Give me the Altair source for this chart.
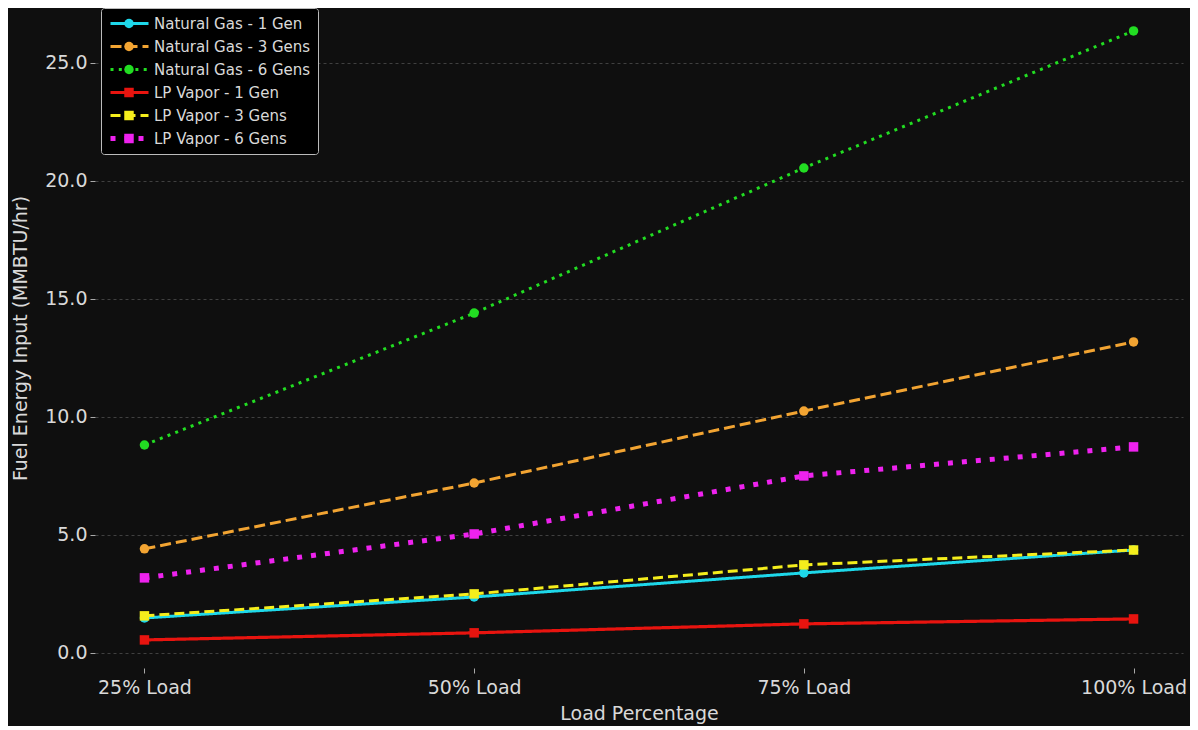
import altair as alt
import pandas as pd

loads = ["25% Load", "50% Load", "75% Load", "100% Load"]
series_names = [
    "Natural Gas - 1 Gen",
    "Natural Gas - 3 Gens",
    "Natural Gas - 6 Gens",
    "LP Vapor - 1 Gen",
    "LP Vapor - 3 Gens",
    "LP Vapor - 6 Gens",
]
ng_1 = [1.48, 2.37, 3.39, 4.36]
ng_3 = [4.41, 7.20, 10.25, 13.18]
ng_6 = [8.81, 14.40, 20.55, 26.36]
lp_1 = [0.55, 0.85, 1.23, 1.44]
lp_3 = [1.57, 2.50, 3.73, 4.36]
lp_6 = [3.18, 5.04, 7.50, 8.73]

colors = ["#1ed8ea", "#f2a432", "#22dd22", "#e8140f", "#f5ee1c", "#ee22ee"]
dashes = [[1, 0], [11, 5], [3, 5.3], [1, 0], [10, 5], [5, 9]]
widths = [3.0, 3.0, 3.0, 3.2, 3.0, 5.0]
shapes = ["circle", "circle", "circle", "square", "square", "square"]

all_values = [ng_1, ng_3, ng_6, lp_1, lp_3, lp_6]
rows = []
for i, (name, vals) in enumerate(zip(series_names, all_values)):
    for load, v in zip(loads, vals):
        rows.append({"Load": load, "Value": v, "Series": name, "Marker": name, "order": i})
df = pd.DataFrame(rows)

FONT = "DejaVu Sans"
TXT = "#d9d9d9"
LEG_X, LEG_Y = 6, 0
ORDER = alt.EncodingSortField(field="order", op="min")
PAD_TEXT = "\u00a0" * 18

x_enc = alt.X(
    "Load:N",
    sort=loads,
    scale=alt.Scale(type="point", padding=0.15),
    axis=alt.Axis(title="Load Percentage", labelAngle=0, titlePadding=7, labelPadding=5),
)
y_enc = alt.Y(
    "Value:Q",
    scale=alt.Scale(domain=[-0.64, 27.33], nice=False, zero=False),
    axis=alt.Axis(
        title="Fuel Energy Input (MMBTU/hr)",
        values=[0, 5, 10, 15, 20, 25],
        format=".1f",
        titlePadding=14,
        labelPadding=3,
    ),
)

line_legend = alt.Legend(
    title=None,
    orient="none",
    legendX=LEG_X,
    legendY=LEG_Y,
    symbolType="stroke",
    symbolSize=1444,
    symbolStrokeWidth=3,
    clipHeight=17,
    labelFontSize=15,
    labelFont=FONT,
    labelColor=TXT,
    labelExpr="datum.label + '" + PAD_TEXT + "'",
    labelLimit=400,
    rowPadding=6,
    padding=7,
    fillColor="#000000",
    strokeColor="#bbbbbb",
    cornerRadius=3,
    labelOffset=3,
)

lines = alt.Chart(df).mark_line().encode(
    x=x_enc,
    y=y_enc,
    color=alt.Color("Series:N", sort=ORDER, scale=alt.Scale(range=colors), legend=line_legend),
    strokeDash=alt.StrokeDash(
        "Series:N", sort=ORDER, scale=alt.Scale(range=dashes), legend=line_legend
    ),
    strokeWidth=alt.StrokeWidth(
        "Series:O", sort=ORDER, scale=alt.Scale(type="ordinal", range=widths), legend=None
    ),
)

marker_legend = alt.Legend(
    title=None,
    orient="none",
    legendX=LEG_X,
    legendY=LEG_Y,
    symbolSize=90,
    symbolOffset=16,
    symbolStrokeWidth=0,
    symbolOpacity=1,
    clipHeight=17,
    labelFontSize=1,
    labelExpr="''",
    rowPadding=6,
    padding=7,
)

points = alt.Chart(df).mark_point(filled=True, opacity=1).encode(
    x=x_enc,
    y=y_enc,
    fill=alt.Fill("Marker:N", sort=ORDER, scale=alt.Scale(range=colors), legend=marker_legend),
    shape=alt.Shape("Marker:N", sort=ORDER, scale=alt.Scale(range=shapes), legend=marker_legend),
    size=alt.value(90),
)

chart = (
    alt.layer(lines, points)
    .properties(
        width=1088,
        height=660,
        autosize=alt.AutoSizeParams(type="none"),
        padding={"left": 87, "top": 0, "right": 7, "bottom": 58},
        background="#0f0f0f",
    )
    .configure_view(stroke=None, fill="#0f0f0f")
    .configure_axis(
        labelFont=FONT,
        titleFont=FONT,
        labelFontSize=19,
        titleFontSize=19,
        titleFontWeight="normal",
        labelColor=TXT,
        titleColor=TXT,
        gridColor="#404040",
        gridDash=[3, 3],
        gridWidth=1,
        tickColor="#aaaaaa",
        tickSize=5,
        domain=False,
    )
)

chart.save("out.html", embed_options={"renderer": "svg", "actions": False})
